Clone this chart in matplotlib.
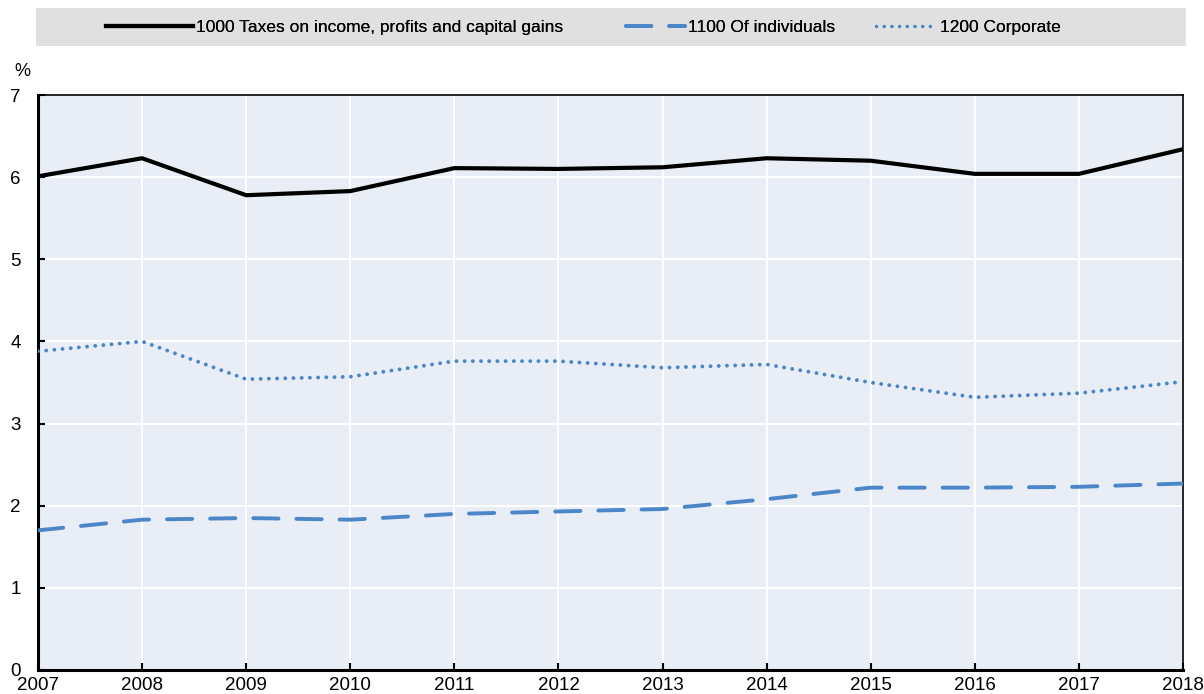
import matplotlib
matplotlib.use("Agg")
import matplotlib.pyplot as plt
from matplotlib.lines import Line2D
from matplotlib.patches import Rectangle
from matplotlib import font_manager

years = [2007, 2008, 2009, 2010, 2011, 2012, 2013, 2014, 2015, 2016, 2017, 2018]
total_income = [6.01, 6.23, 5.78, 5.83, 6.11, 6.10, 6.12, 6.23, 6.20, 6.04, 6.04, 6.34]
individuals = [1.70, 1.83, 1.85, 1.83, 1.90, 1.93, 1.96, 2.08, 2.22, 2.22, 2.23, 2.27]
corporate = [3.88, 4.00, 3.54, 3.57, 3.76, 3.76, 3.68, 3.72, 3.50, 3.32, 3.37, 3.51]
labels = ["1000 Taxes on income, profits and capital gains", "1100 Of individuals", "1200 Corporate"]
yticks = [0, 1, 2, 3, 4, 5, 6, 7]

names = {f.name for f in font_manager.fontManager.ttflist}
fam = "Liberation Sans Narrow" if "Liberation Sans Narrow" in names else "Liberation Sans"
plt.rcParams['font.family'] = [fam, 'DejaVu Sans']

blue = "#4a86c8"
DASH = (6.5, 4.6)
DOT = (0.01, 2.1)
fig = plt.figure(figsize=(12.04, 6.94), dpi=100)
W, H = 1204, 694
ax = fig.add_axes([38 / W, (694 - 670) / H, (1183 - 38) / W, (670 - 95) / H])
ax.set_facecolor("#e9edf6")

ax.plot(years, total_income, color="black", lw=3.0, solid_capstyle="round", solid_joinstyle="round", zorder=3)
ax.plot(years, individuals, color=blue, lw=2.8, dashes=DASH, dash_capstyle="round", zorder=3)
ax.plot(years, corporate, color=blue, lw=2.8, dashes=DOT, dash_capstyle="round", zorder=3)

ax.set_xlim(2007, 2018)
ax.set_ylim(0, 7)
ax.set_xticks(years)
ax.set_yticks(yticks)
ax.grid(True, color="white", lw=1.5)
ax.set_axisbelow(True)
ax.tick_params(axis="both", direction="in", length=5, width=1.5, labelsize=13.5, colors="black")
ax.tick_params(axis="x", pad=5)
for lab in ax.get_yticklabels():
    lab.set_horizontalalignment("left")
ax.yaxis.set_tick_params(pad=20)
for s in ["left", "bottom"]:
    ax.spines[s].set_linewidth(2.2)
for s in ["top", "right"]:
    ax.spines[s].set_linewidth(1.2)

fig.text(14 / W, 1 - 72 / H, "%", fontsize=13, ha="left", va="center")

# legend band
fig.patches.append(Rectangle((36 / W, 1 - 46 / H), 1150 / W, 38 / H, transform=fig.transFigure,
                             facecolor="#e0e0e0", edgecolor="none", zorder=0))
hs = [
    Line2D([0], [0], color="black", lw=3.0),
    Line2D([0], [0], color=blue, lw=2.8, dashes=DASH, dash_capstyle="round"),
    Line2D([0], [0], color=blue, lw=2.4, dashes=(0.01, 2.3), dash_capstyle="round"),
]
xs = [106, 626, 876]
hl = [5.0, 3.4, 3.5]
for h, lab, x, l in zip(hs, labels, xs, hl):
    leg = fig.legend(handles=[h], labels=[lab], loc="center left", bbox_to_anchor=(x / W, 1 - 27 / H),
                     frameon=False, fontsize=12.5, handlelength=l, handletextpad=0.2, borderpad=0, borderaxespad=0)
    fig.add_artist(leg)

fig.savefig("out.png", dpi=100)
